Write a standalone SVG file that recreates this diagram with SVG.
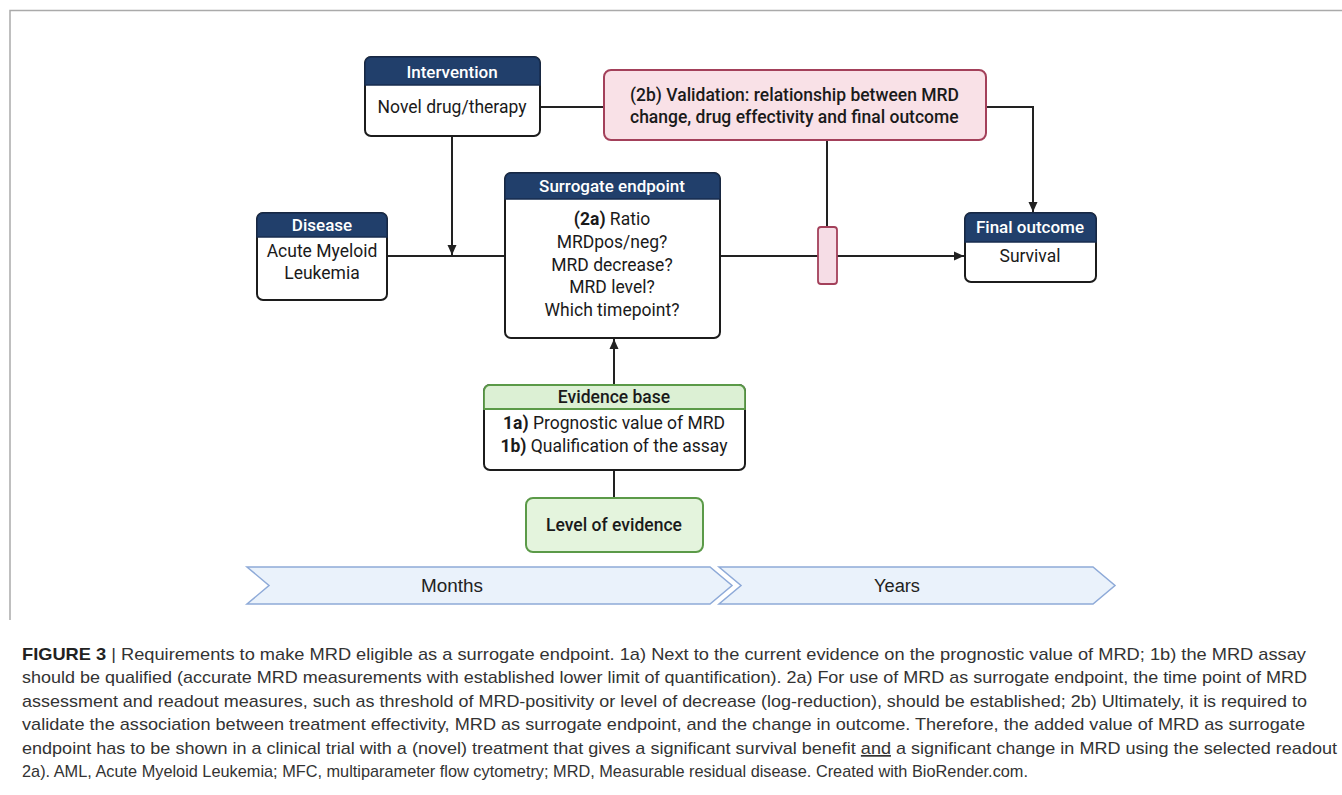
<svg xmlns="http://www.w3.org/2000/svg" width="1342" height="795" viewBox="0 0 1342 795">
<style>
.box{fill:#fff;stroke:#1c1c1c;stroke-width:2}
.hdr{fill:#213f6b;stroke:#172d4f;stroke-width:1.5}
.ht{font-family:Roboto,"Liberation Sans",sans-serif;font-size:17px;font-weight:500;fill:#fff;text-anchor:middle}
.bt{font-family:Roboto,"Liberation Sans",sans-serif;font-size:17.5px;fill:#1a1a1a;text-anchor:middle}
.bold{font-weight:700}
.mt{font-family:Roboto,"Liberation Sans",sans-serif;font-size:17.5px;font-weight:500;fill:#1a1a1a}
.ln{stroke:#222;stroke-width:2;fill:none}
.chev{fill:#eaf2fb;stroke:#8eaad8;stroke-width:1.5}
.ct{font-family:"Liberation Sans",Arial,sans-serif;font-size:17px;fill:#333}
.tl{font-family:"Liberation Sans",Arial,sans-serif;font-size:18px;fill:#222;text-anchor:middle}
</style>
<defs>
<marker id="ah" viewBox="0 0 10 10" refX="10" refY="5" markerWidth="10" markerHeight="10" orient="auto" markerUnits="userSpaceOnUse">
<path d="M0,0.5 L10,5 L0,9.5 z" fill="#222"/>
</marker>
</defs>
<rect width="1342" height="795" fill="#fff"/>
<path d="M10,620 V10.5 H1342" fill="none" stroke="#aaa" stroke-width="1.5"/>

<g id="connectors">
<line class="ln" x1="540" y1="107" x2="604" y2="107"/>
<path class="ln" d="M986,107 H1033 V212" marker-end="url(#ah)"/>
<line class="ln" x1="827" y1="140" x2="827" y2="227"/>
<line class="ln" x1="452" y1="136" x2="452" y2="255" marker-end="url(#ah)"/>
<line class="ln" x1="387" y1="256" x2="505" y2="256"/>
<line class="ln" x1="720" y1="256" x2="964" y2="256" marker-end="url(#ah)"/>
<line class="ln" x1="614" y1="385" x2="614" y2="339" marker-end="url(#ah)"/>
<line class="ln" x1="614" y1="470" x2="614" y2="498"/>
</g>

<g id="intervention">
<rect class="box" x="365" y="57" width="175" height="79" rx="6"/>
<path class="hdr" d="M365,85 V63 a6,6 0 0 1 6,-6 H534 a6,6 0 0 1 6,6 V85 z"/>
<text class="ht" x="452" y="78">Intervention</text>
<text class="bt" x="452" y="113">Novel drug/therapy</text>
</g>

<g id="validation">
<rect x="604" y="70" width="382" height="70" rx="7" fill="#f9e1e7" stroke="#a3405a" stroke-width="2"/>
<text class="mt" x="630" y="101">(2b) Validation: relationship between MRD</text>
<text class="mt" x="630" y="123">change, drug effectivity and final outcome</text>
</g>

<g id="disease">
<rect class="box" x="257" y="213" width="130" height="87" rx="6"/>
<path class="hdr" d="M257,237 V219 a6,6 0 0 1 6,-6 H381 a6,6 0 0 1 6,6 V237 z"/>
<text class="ht" x="322" y="231">Disease</text>
<text class="bt" x="322" y="257">Acute Myeloid</text>
<text class="bt" x="322" y="279">Leukemia</text>
</g>

<g id="surrogate">
<rect class="box" x="505" y="173" width="215" height="165" rx="6"/>
<path class="hdr" d="M505,199 V179 a6,6 0 0 1 6,-6 H714 a6,6 0 0 1 6,6 V199 z"/>
<text class="ht" x="612" y="192">Surrogate endpoint</text>
<text class="bt" x="612" y="225"><tspan class="bold">(2a)</tspan> Ratio</text>
<text class="bt" x="612" y="248">MRDpos/neg?</text>
<text class="bt" x="612" y="271">MRD decrease?</text>
<text class="bt" x="612" y="293">MRD level?</text>
<text class="bt" x="612" y="316">Which timepoint?</text>
</g>

<g id="validation-marker">
<rect x="818" y="227" width="19" height="57" rx="3" fill="#f6dde6" stroke="#a3405a" stroke-width="1.8"/>
</g>

<g id="final-outcome">
<rect class="box" x="965" y="213" width="131" height="69" rx="6"/>
<path class="hdr" d="M965,242 V219 a6,6 0 0 1 6,-6 H1090 a6,6 0 0 1 6,6 V242 z"/>
<text class="ht" x="1030" y="233">Final outcome</text>
<text class="bt" x="1030" y="262">Survival</text>
</g>

<g id="evidence-base">
<rect class="box" x="484" y="385" width="261" height="85" rx="6"/>
<path d="M484,409 V391 a6,6 0 0 1 6,-6 H739 a6,6 0 0 1 6,6 V409 z" fill="#dcf0d4" stroke="#5b9a48" stroke-width="1.8"/>
<text class="bt" x="614" y="403" font-weight="500" font-size="17">Evidence base</text>
<text class="bt" x="614" y="429"><tspan class="bold">1a)</tspan> Prognostic value of MRD</text>
<text class="bt" x="614" y="452"><tspan class="bold">1b)</tspan> Qualification of the assay</text>
</g>

<g id="level-of-evidence">
<rect x="526" y="498" width="177" height="54" rx="7" fill="#e4f4dd" stroke="#5b9a48" stroke-width="2"/>
<text class="bt" x="614" y="531" font-weight="500">Level of evidence</text>
</g>

<g id="timeline">
<path class="chev" d="M247,567 H710 L732,585.5 L710,604 H247 L269,585.5 z"/>
<text class="tl" x="452" y="592" textLength="62" lengthAdjust="spacingAndGlyphs">Months</text>
<path class="chev" d="M719,567 H1093 L1115,585.5 L1093,604 H719 L741,585.5 z"/>
<text class="tl" x="897" y="592" textLength="46" lengthAdjust="spacingAndGlyphs">Years</text>
</g>

<g id="caption">
<text class="ct" x="22" y="660" textLength="1284" lengthAdjust="spacingAndGlyphs"><tspan font-weight="700" fill="#222">FIGURE 3</tspan> | Requirements to make MRD eligible as a surrogate endpoint. 1a) Next to the current evidence on the prognostic value of MRD; 1b) the MRD assay</text>
<text class="ct" x="22" y="683" textLength="1285" lengthAdjust="spacingAndGlyphs">should be qualified (accurate MRD measurements with established lower limit of quantification). 2a) For use of MRD as surrogate endpoint, the time point of MRD</text>
<text class="ct" x="22" y="707" textLength="1285" lengthAdjust="spacingAndGlyphs">assessment and readout measures, such as threshold of MRD-positivity or level of decrease (log-reduction), should be established; 2b) Ultimately, it is required to</text>
<text class="ct" x="22" y="730" textLength="1283" lengthAdjust="spacingAndGlyphs">validate the association between treatment effectivity, MRD as surrogate endpoint, and the change in outcome. Therefore, the added value of MRD as surrogate</text>
<text class="ct" x="22" y="754" textLength="1315" lengthAdjust="spacingAndGlyphs">endpoint has to be shown in a clinical trial with a (novel) treatment that gives a significant survival benefit <tspan text-decoration="underline">and</tspan> a significant change in MRD using the selected readout</text>
<text class="ct" x="22" y="777" textLength="1006" lengthAdjust="spacingAndGlyphs">2a). AML, Acute Myeloid Leukemia; MFC, multiparameter flow cytometry; MRD, Measurable residual disease. Created with BioRender.com.</text>
</g>
</svg>
